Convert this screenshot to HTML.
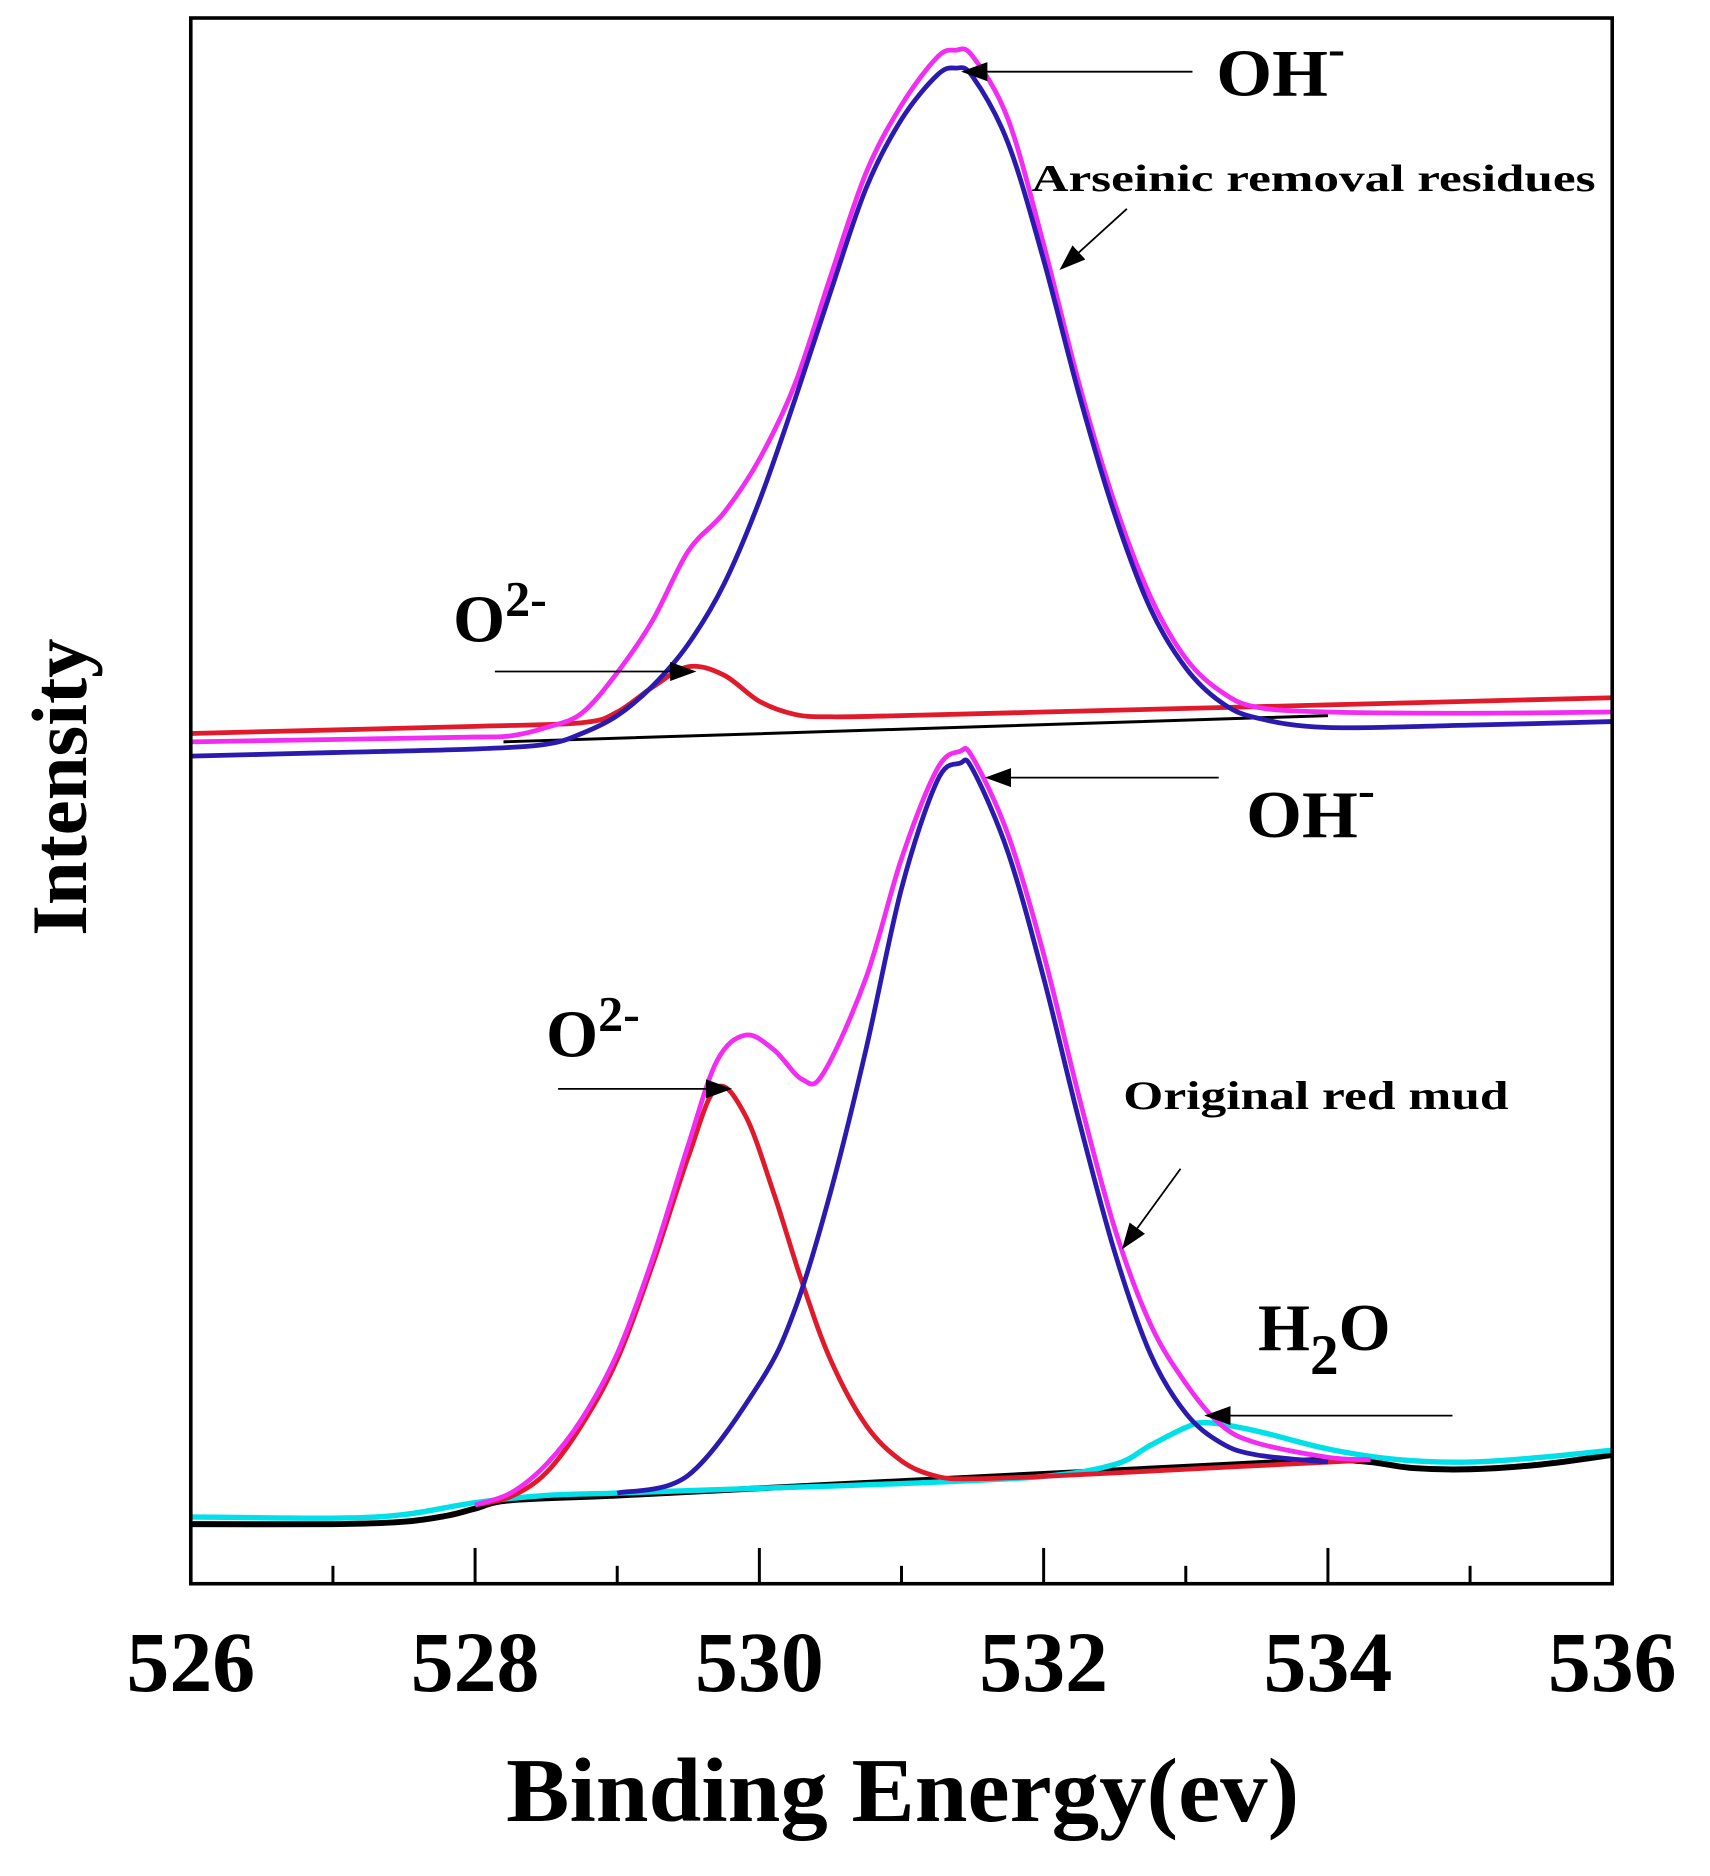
<!DOCTYPE html>
<html><head><meta charset="utf-8">
<style>
html,body{margin:0;padding:0;background:#fff;}
svg{display:block;}
text{font-family:"Liberation Serif","DejaVu Serif",serif;font-weight:bold;fill:#000;}
</style></head>
<body>
<svg id="chart" width="1710" height="1876" viewBox="0 0 1434 1573" xmlns="http://www.w3.org/2000/svg">
<defs>
<marker id="ahb" markerWidth="22" markerHeight="16" refX="20" refY="8" orient="auto" markerUnits="userSpaceOnUse" viewBox="0 0 22 16">
<path d="M0,0 L22,8 L0,16 z" fill="#000"/></marker>
</defs>
<g id="plot"></g>
<g id="axes"></g>
<g>
<line x1="1000" y1="60" x2="808" y2="60" stroke="#000" stroke-width="1.5" marker-end="url(#ahb)"/>
<text x="1020" y="80" font-size="56" textLength="108" lengthAdjust="spacingAndGlyphs">OH<tspan dy="-26" font-size="40">-</tspan></text>
<text x="865" y="160" font-size="32" textLength="473" lengthAdjust="spacingAndGlyphs">Arseinic removal residues</text>
<line x1="945" y1="175" x2="890" y2="225" stroke="#000" stroke-width="1.5" marker-end="url(#ahb)"/>
<text x="380" y="538" font-size="56">O<tspan dy="-22" font-size="42">2-</tspan></text>
<line x1="415" y1="563" x2="582" y2="563" stroke="#000" stroke-width="1.5" marker-end="url(#ahb)"/>
<line x1="1022" y1="652" x2="828" y2="652" stroke="#000" stroke-width="1.5" marker-end="url(#ahb)"/>
<text x="1045" y="702" font-size="56" textLength="108" lengthAdjust="spacingAndGlyphs">OH<tspan dy="-26" font-size="40">-</tspan></text>
<text x="458" y="886" font-size="56">O<tspan dy="-22" font-size="42">2-</tspan></text>
<line x1="468" y1="913" x2="612" y2="913" stroke="#000" stroke-width="1.5" marker-end="url(#ahb)"/>
<text x="942" y="930" font-size="34" textLength="323" lengthAdjust="spacingAndGlyphs">Original red mud</text>
<line x1="990" y1="980" x2="942" y2="1046" stroke="#000" stroke-width="1.5" marker-end="url(#ahb)"/>
<text x="1055" y="1132" font-size="56">H<tspan dy="20" font-size="48">2</tspan><tspan dy="-20">O</tspan></text>
<line x1="1218" y1="1187" x2="1012" y2="1187" stroke="#000" stroke-width="1.5" marker-end="url(#ahb)"/>
</g>
<text transform="translate(72,660) rotate(-90)" text-anchor="middle" font-size="66">Intensity</text>
<text x="757" y="1527" text-anchor="middle" font-size="76" textLength="665" lengthAdjust="spacingAndGlyphs">Binding Energy(ev)</text>
</svg>
<script>
// x tick data
const xTicks = [526, 528, 530, 532, 534, 536];
const xMinorTicks = [527, 529, 531, 533, 535];
// top spectrum (arsenic removal residues)
const topBlueE = [526,527,528,528.5,528.75,529,529.25,529.5,529.75,530,530.25,530.5,530.75,531,531.25,531.38,531.5,531.75,532,532.25,532.5,532.75,533,533.25,533.5,534,535,536];
const topBlueV = [694,697,700,704,713,728,753,788,838,908,993,1083,1170,1228,1265,1271,1264,1208,1110,997,897,818,768,739,726,718,720,723];
const topRedE = [526,528,528.75,529,529.25,529.5,529.75,530,530.25,530.5,531,532,534,536];
const topRedV = [713,719,722,731,752,769,762,740,729,727,728,731,737,743];
const topMagE = [526,527,528,528.25,528.5,528.75,529,529.25,529.5,529.75,530,530.25,530.5,530.75,531,531.25,531.38,531.5,531.75,532,532.25,532.5,532.75,533,533.25,533.5,534,535,536];
const topMagV = [706,708,710,711,718,730,764,808,866,898,943,1006,1096,1183,1240,1280,1286,1281,1228,1123,1006,906,828,776,748,735,731,730,731];
const topBaseE = [528.2, 534];
const topBaseV = [706, 728];
// bottom spectrum (original red mud)
const botBlackE = [526,527,527.5,527.8,528,528.25,529,530,531,532,533,533.5,534,534.3,534.6,535,535.5,536];
const botBlackV = [50,50,52,57,63,70,74,80,86,92,98,101,104,102,97,96,100,108];
const botCyanE = [526,527,527.5,528,528.5,529,530,531,532,532.5,532.75,533,533.15,533.5,534,534.5,535,535.5,536];
const botCyanV = [56,55,58,68,74,76,80,84,90,100,116,131,135,128,113,104,102,106,112];
const botRedE = [528,528.25,528.5,528.75,529,529.25,529.5,529.7,529.9,530.1,530.3,530.5,530.75,531,531.25,531.5,532,533,534,534.3];
const botRedV = [66,73,93,133,188,268,358,416,393,328,253,188,133,103,90,88,90,96,102,104];
const botBlueE = [529,529.5,530,530.25,530.5,530.75,531,531.25,531.41,531.5,531.75,532,532.25,532.5,532.75,533,533.25,533.5,534];
const botBlueV = [76,91,168,230,328,448,583,673,688,683,613,508,388,278,193,143,118,108,102];
const botMagE = [528,528.25,528.5,528.75,529,529.25,529.5,529.7,529.9,530.1,530.3,530.45,530.75,531,531.25,531.41,531.5,531.75,532,532.25,532.5,532.75,533,533.25,533.5,534,534.3];
const botMagV = [66,76,100,138,193,273,368,438,460,448,423,428,508,608,683,698,693,628,528,408,298,218,168,133,118,106,104];

const L=160,R=1352,T=15,B=1328;
function xS(e){return L+(e-526)*(R-L)/10;}
function yS(v){return B-v;}
const NS="http://www.w3.org/2000/svg";
function pathD(E,V){
  const p=E.map((e,i)=>[xS(e),yS(V[i])]);
  let d="M"+p[0][0].toFixed(1)+","+p[0][1].toFixed(1);
  for(let i=0;i<p.length-1;i++){
    const p0=p[i-1]||p[i],p1=p[i],p2=p[i+1],p3=p[i+2]||p2;
    const c1=[p1[0]+(p2[0]-p0[0])/6,p1[1]+(p2[1]-p0[1])/6];
    const c2=[p2[0]-(p3[0]-p1[0])/6,p2[1]-(p3[1]-p1[1])/6];
    d+=" C"+c1[0].toFixed(1)+","+c1[1].toFixed(1)+" "+c2[0].toFixed(1)+","+c2[1].toFixed(1)+" "+p2[0].toFixed(1)+","+p2[1].toFixed(1);
  }
  return d;
}
const plot=document.getElementById('plot');
function addLine(E,V,color,w,name){
  const el=document.createElementNS(NS,'path');
  el.setAttribute('d',pathD(E,V));
  el.setAttribute('fill','none');
  el.setAttribute('stroke',color);
  el.setAttribute('stroke-width',w);
  el.setAttribute('stroke-linejoin','round');
  
  
  plot.appendChild(el);
}
addLine(topBaseE,topBaseV,'#000',2.5,'top-background-line');
addLine(topRedE,topRedV,'#e01a2a',4,'top-o2-fit');
addLine(topMagE,topMagV,'#f22cf2',4,'top-envelope');
addLine(topBlueE,topBlueV,'#2a1ab0',4,'top-oh-fit');
addLine(botBlackE,botBlackV,'#000',5,'bottom-background-line');
addLine(botCyanE,botCyanV,'#00e0e8',4.5,'bottom-h2o-fit');
addLine(botRedE,botRedV,'#e01a2a',4,'bottom-o2-fit');
addLine(botMagE,botMagV,'#f22cf2',4,'bottom-envelope');
addLine(botBlueE,botBlueV,'#2a1ab0',4,'bottom-oh-fit');

const axes=document.getElementById('axes');
const frame=document.createElementNS(NS,'rect');
frame.setAttribute('x',L);frame.setAttribute('y',T);
frame.setAttribute('width',R-L);frame.setAttribute('height',B-T);
frame.setAttribute('fill','none');frame.setAttribute('stroke','#000');frame.setAttribute('stroke-width','3');


axes.appendChild(frame);
xTicks.forEach(t=>{
  const ln=document.createElementNS(NS,'line');
  ln.setAttribute('x1',xS(t));ln.setAttribute('x2',xS(t));
  ln.setAttribute('y1',B);ln.setAttribute('y2',B-30);
  ln.setAttribute('stroke','#000');ln.setAttribute('stroke-width','2.5');
  
  
  axes.appendChild(ln);
  const tx=document.createElementNS(NS,'text');
  tx.setAttribute('x',xS(t));tx.setAttribute('y',1418);
  tx.setAttribute('text-anchor','middle');tx.setAttribute('font-size','72');
  tx.textContent=t;
  
  
  axes.appendChild(tx);
});
xMinorTicks.forEach(t=>{
  const ln=document.createElementNS(NS,'line');
  ln.setAttribute('x1',xS(t));ln.setAttribute('x2',xS(t));
  ln.setAttribute('y1',B);ln.setAttribute('y2',B-15);
  ln.setAttribute('stroke','#000');ln.setAttribute('stroke-width','2.5');
  
  
  axes.appendChild(ln);
});
</script>
</body></html>
